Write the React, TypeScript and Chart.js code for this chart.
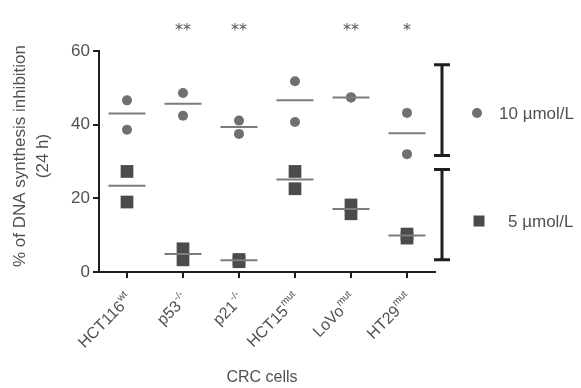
import React, { useEffect, useRef } from 'react';
import { Chart, registerables } from 'chart.js';

Chart.register(...registerables);

const categories = ['HCT116', 'p53', 'p21', 'HCT15', 'LoVo', 'HT29'];
const superscripts = ['wt', '-/-', '-/-', 'mut', 'mut', 'mut'];
const significance = ['', '**', '**', '', '**', '*'];

const dose10RepA = [46.6, 48.6, 41.1, 51.8, 47.4, 43.2];
const dose10RepB = [38.6, 42.4, 37.5, 40.7, 47.4, 32.0];
const dose10Mean = [43.0, 45.7, 39.4, 46.6, 47.4, 37.7];

const dose5RepA = [27.3, 6.3, 3.4, 27.3, 18.2, 10.3];
const dose5RepB = [19.0, 3.3, 2.8, 22.6, 15.8, 9.2];
const dose5Mean = [23.4, 4.9, 3.2, 25.1, 17.1, 9.9];

const legendLabels = ['10 µmol/L', '5 µmol/L'];
const bracketRanges = [
  [31.6, 56.3],
  [3.3, 27.8],
];
const yTitleLines = ['% of DNA synthesis inhibition', '(24 h)'];
const xTitle = 'CRC cells';

const CIRCLE = '#707072';
const SQUARE = '#4b4b4d';
const MEANLINE = '#7c7c7e';
const AXIS = '#1e1e1e';
const TEXT = '#515151';
const FONT = '"Liberation Sans", Arial, sans-serif';

const overlayPlugin = {
  id: 'overlay',
  afterDraw(chart: any) {
    const { ctx, scales } = chart;
    const x = scales.x;
    const y = scales.y;
    ctx.save();

    // significance stars
    ctx.fillStyle = TEXT;
    ctx.font = '16px "DejaVu Sans", sans-serif';
    ctx.textAlign = 'center';
    ctx.textBaseline = 'middle';
    significance.forEach((s, i) => {
      if (s) ctx.fillText(s, x.getPixelForValue(i), 31);
    });

    // brackets
    ctx.strokeStyle = AXIS;
    ctx.lineWidth = 3;
    ctx.lineCap = 'butt';
    const bx = x.right + 7;
    bracketRanges.forEach(([lo, hi]) => {
      const y1 = y.getPixelForValue(hi);
      const y2 = y.getPixelForValue(lo);
      ctx.beginPath();
      ctx.moveTo(bx, y1);
      ctx.lineTo(bx, y2);
      ctx.moveTo(bx - 8, y1);
      ctx.lineTo(bx + 8, y1);
      ctx.moveTo(bx - 8, y2);
      ctx.lineTo(bx + 8, y2);
      ctx.stroke();
    });

    // legend
    ctx.font = '17px ' + FONT;
    ctx.textAlign = 'left';
    ctx.textBaseline = 'middle';
    ctx.fillStyle = CIRCLE;
    ctx.beginPath();
    ctx.arc(477, 113, 5, 0, Math.PI * 2);
    ctx.fill();
    ctx.fillStyle = TEXT;
    ctx.fillText(legendLabels[0], 499, 114);
    ctx.fillStyle = SQUARE;
    ctx.fillRect(473.5, 215.5, 11, 11);
    ctx.fillStyle = TEXT;
    ctx.fillText(legendLabels[1], 508, 222);

    // rotated category labels with superscripts
    categories.forEach((c, i) => {
      const px = x.getPixelForValue(i);
      ctx.save();
      ctx.translate(px + 3, x.top + 25);
      ctx.rotate(-Math.PI / 4);
      ctx.fillStyle = TEXT;
      ctx.textAlign = 'right';
      ctx.textBaseline = 'middle';
      ctx.font = '10px ' + FONT;
      const supW = ctx.measureText(superscripts[i]).width;
      ctx.fillText(superscripts[i], 0, -6);
      ctx.font = '16px ' + FONT;
      ctx.fillText(c, -supW - 0.5, 0);
      ctx.restore();
    });

    // y title
    ctx.save();
    ctx.translate(20, 156);
    ctx.rotate(-Math.PI / 2);
    ctx.font = '17px ' + FONT;
    ctx.fillStyle = TEXT;
    ctx.textAlign = 'center';
    ctx.textBaseline = 'middle';
    ctx.fillText(yTitleLines[0], 0, 0);
    ctx.fillText(yTitleLines[1], 0, 23);
    ctx.restore();

    // x title
    ctx.font = '16px ' + FONT;
    ctx.fillStyle = TEXT;
    ctx.textAlign = 'center';
    ctx.textBaseline = 'middle';
    ctx.fillText(xTitle, (x.left + x.right) / 2 - 5, 378);

    ctx.restore();
  },
};

export default function App() {
  const ref = useRef<HTMLCanvasElement | null>(null);

  useEffect(() => {
    document.body.style.margin = '0';
    const canvas = ref.current;
    if (!canvas) return;
    const meanStyle = {
      type: 'line' as const,
      showLine: false,
      pointStyle: 'line',
      pointRadius: 18.5,
      pointBorderWidth: 2,
      pointBorderColor: MEANLINE,
      pointBackgroundColor: MEANLINE,
    };
    const circleStyle = {
      type: 'line' as const,
      showLine: false,
      pointStyle: 'circle',
      pointRadius: 5,
      pointBorderWidth: 0,
      pointBackgroundColor: CIRCLE,
      pointBorderColor: CIRCLE,
    };
    const squareStyle = {
      type: 'line' as const,
      showLine: false,
      pointStyle: 'rect',
      pointRadius: 9,
      pointBorderWidth: 0,
      pointBackgroundColor: SQUARE,
      pointBorderColor: SQUARE,
    };
    const chart = new Chart(canvas, {
      type: 'line',
      data: {
        labels: categories,
        datasets: [
          { ...meanStyle, label: '10 mean', data: dose10Mean },
          { ...meanStyle, label: '5 mean', data: dose5Mean },
          { ...circleStyle, label: '10 A', data: dose10RepA },
          { ...circleStyle, label: '10 B', data: dose10RepB },
          { ...squareStyle, label: '5 A', data: dose5RepA },
          { ...squareStyle, label: '5 B', data: dose5RepB },
        ] as any,
      },
      options: {
        responsive: false,
        animation: false,
        events: [],
        layout: { padding: { left: 0, right: 146, top: 51, bottom: 0 } },
        plugins: {
          legend: { display: false },
          tooltip: { enabled: false },
          title: { display: false },
        },
        scales: {
          x: {
            type: 'category',
            offset: true,
            afterFit: (s: any) => {
              s.height = 116;
            },
            grid: {
              offset: false,
              drawOnChartArea: false,
              drawTicks: true,
              tickLength: 6,
              color: AXIS,
              lineWidth: 2,
            },
            border: { display: true, color: AXIS, width: 2 },
            ticks: { display: false },
          },
          y: {
            min: 0,
            max: 60,
            afterFit: (s: any) => {
              s.width = 99;
            },
            grid: {
              drawOnChartArea: false,
              drawTicks: true,
              tickLength: 6,
              color: AXIS,
              lineWidth: 2,
            },
            border: { display: true, color: AXIS, width: 2 },
            ticks: {
              stepSize: 20,
              padding: 3,
              color: TEXT,
              font: { size: 17, family: FONT },
            },
          },
        },
      },
      plugins: [overlayPlugin],
    });
    return () => chart.destroy();
  }, []);

  return (
    <div style={{ position: 'fixed', left: 0, top: 0, width: 581, height: 388 }}>
      <canvas ref={ref} width={581} height={388} style={{ display: 'block' }} />
    </div>
  );
}
